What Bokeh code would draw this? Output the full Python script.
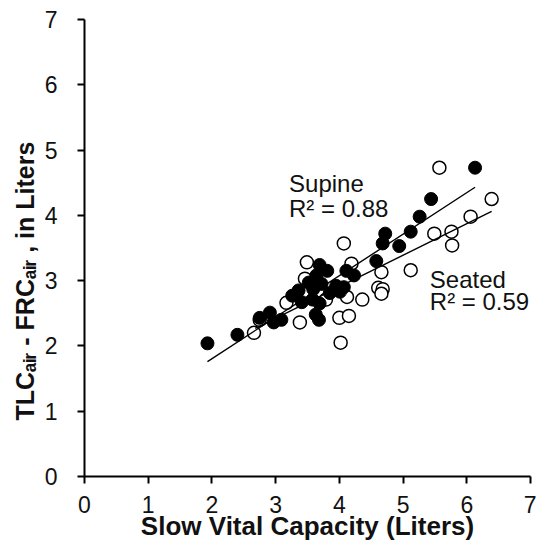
from bokeh.plotting import figure
from bokeh.models import Label, FixedTicker, Range1d, Title
from bokeh.embed import file_html
from bokeh.resources import INLINE

# ---- data ----
supine_x = [1.93, 2.40, 2.75, 2.91, 2.97, 3.09, 3.26, 3.36, 3.41, 3.52, 3.58, 3.59,
            3.64, 3.69, 3.69, 3.63, 3.68, 3.72, 3.81, 3.85, 3.95, 4.01, 4.07, 4.11,
            4.23, 4.58, 4.68, 4.72, 4.94, 5.12, 5.26, 5.44, 6.13]
supine_y = [2.04, 2.17, 2.43, 2.51, 2.36, 2.40, 2.77, 2.85, 2.67, 2.97, 2.71, 2.87,
            3.08, 3.24, 2.65, 2.48, 2.40, 2.95, 3.15, 2.81, 2.92, 2.83, 2.90, 3.15,
            3.08, 3.30, 3.57, 3.72, 3.53, 3.75, 3.98, 4.25, 4.73]

seated_x = [2.66, 2.75, 3.17, 3.38, 3.46, 3.49, 3.79, 4.00, 4.15, 4.02, 4.07, 4.19,
            4.12, 4.36, 4.61, 4.68, 4.66, 4.66, 5.12, 5.49, 5.76, 5.77, 6.06, 6.39, 5.57]
seated_y = [2.20, 2.40, 2.66, 2.36, 3.03, 3.28, 2.71, 2.43, 2.46, 2.05, 3.57, 3.26,
            2.75, 2.71, 2.89, 2.87, 2.80, 3.13, 3.16, 3.72, 3.75, 3.54, 3.98, 4.25, 4.73]

supine_fit_x = [1.93, 6.13]
supine_fit_y = [1.76, 4.43]
seated_fit_x = [2.68, 6.39]
seated_fit_y = [2.27, 4.06]

ticks = [0, 1, 2, 3, 4, 5, 6, 7]
x_title = "Slow Vital Capacity (Liters)"
y_title = "TLC\u2090\u1d62\u1d63 - FRC\u2090\u1d62\u1d63 , in Liters"
supine_label = ["Supine", "R² = 0.88"]
seated_label = ["Seated", "R² = 0.59"]

FONT = "Liberation Sans"
INK = "#111111"
W, H = 536, 543
p = figure(width=W, height=H, x_range=Range1d(0, 7), y_range=Range1d(0, 7),
           output_backend="svg", toolbar_location=None,
           min_border_left=84, min_border_right=6, min_border_top=19, min_border_bottom=67)
p.xgrid.visible = False
p.ygrid.visible = False
p.outline_line_color = None
p.background_fill_color = "white"
p.border_fill_color = "white"

for ax in (p.xaxis[0], p.yaxis[0]):
    ax.ticker = FixedTicker(ticks=ticks)
    ax.axis_line_width = 2
    ax.axis_line_color = "black"
    ax.major_tick_line_width = 2
    ax.major_tick_line_color = "black"
    ax.major_tick_out = 7
    ax.major_tick_in = 0
    ax.minor_tick_line_color = None
    ax.major_label_text_font = FONT
    ax.major_label_text_font_size = "23px"
    ax.major_label_text_color = INK

p.xaxis.major_label_standoff = 12
p.xaxis.axis_label = x_title
p.xaxis.axis_label_text_font = FONT
p.xaxis.axis_label_text_font_size = "26px"
p.xaxis.axis_label_text_font_style = "bold"
p.xaxis.axis_label_text_color = INK
p.xaxis.axis_label_standoff = -5

p.yaxis.major_label_standoff = 20

# y-axis title as a side title (offset along the axis like the reference)
p.add_layout(Title(text=y_title, text_font=FONT, text_font_size="25px",
                   text_font_style="bold", text_color=INK, align="left",
                   vertical_align="bottom", offset=56, standoff=6), "left")

# markers
p.scatter(seated_x, seated_y, marker="circle", size=13, fill_color="white",
          line_color="black", line_width=1.5)
p.scatter(supine_x, supine_y, marker="circle", size=13, fill_color="black",
          line_color="black", line_width=1)
p.line(supine_fit_x, supine_fit_y, line_color="black", line_width=1.4)
p.line(seated_fit_x, seated_fit_y, line_color="black", line_width=1.4)

# annotations
for lines, x0, ys in ((supine_label, 3.21, (4.49, 4.11)), (seated_label, 5.42, (3.02, 2.68))):
    for t, yy in zip(lines, ys):
        p.add_layout(Label(x=x0, y=yy, text=t, text_font=FONT,
                           text_font_size="24px", text_color=INK,
                           text_baseline="alphabetic", text_align="left"))

open("out.html", "w").write(file_html(p, INLINE))
